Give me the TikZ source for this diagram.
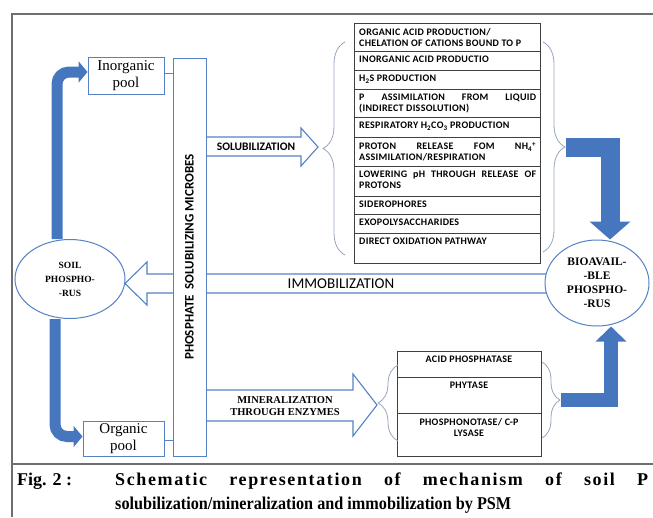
\documentclass[tikz,border=0pt]{standalone}
\usepackage{fontspec}
\setmainfont{Liberation Serif}
\newfontfamily\calib{Carlito}
\newfontfamily\calibw[LetterSpace=3]{Carlito}
\newfontfamily\capfont[FakeStretch=0.9]{Liberation Serif}
\newfontfamily\capspaced[LetterSpace=9]{Liberation Serif}
\usetikzlibrary{arrows.meta,shapes.geometric,decorations.pathreplacing}

\begin{document}
\begin{tikzpicture}[x=1pt,y=-1pt,
    pool/.style={draw=azul,line width=1pt,fill=white,align=center,inner sep=0pt,font=\fontsize{15}{17}\selectfont},
    nube/.style={ellipse,draw=azul,line width=1pt,fill=white,align=center,inner sep=0pt},
    hueco/.style={draw=azul,line width=1.1pt,fill=white,line join=miter},
    gruesa/.style={draw=azulf,line width=11pt,rounded corners=12pt,-{Triangle[length=9pt,width=21pt]}},
    llave/.style={draw=gris,line width=0.8pt,decorate,decoration={brace,amplitude=#1}},
    fila/.style={draw=black!75,line width=0.7pt},
    txtfila/.style={anchor=north west,inner sep=0pt,text width=177pt,align=justify,font=\calibw\bfseries\fontsize{10}{11}\selectfont},
  ]
    %colores
    \definecolor{azul}{RGB}{84,130,196}
    \definecolor{azulf}{RGB}{70,118,190}
    \definecolor{gris}{RGB}{150,165,190}
    \definecolor{marco}{RGB}{110,110,110}
    \useasboundingbox (0,0) rectangle (653,517);

    % marco
    \draw[marco,line width=1.3pt] (12,517) -- (12,14) -- (653,14);
    \draw[marco,line width=1.8pt] (12,464) -- (653,464);

    % flechas huecas
    \draw[hueco] (206,137) -- (301,137) -- (301,128) -- (318,147) -- (301,166) -- (301,156) -- (206,156) -- cycle;
    \draw[hueco] (560,274) -- (147,274) -- (147,262) -- (125,283.5) -- (147,305) -- (147,293) -- (560,293) -- cycle;
    \draw[hueco] (206,390) -- (353,390) -- (353,374) -- (377,405) -- (353,436) -- (353,421) -- (206,421) -- cycle;
    \node[font=\calib\bfseries\fontsize{11.5}{13}\selectfont] (solub) at (256,147) {SOLUBILIZATION};
    \node[font=\calib\fontsize{15}{17}\selectfont] (inmov) at (341,284) {IMMOBILIZATION};
    \node[align=center,font=\bfseries\fontsize{10.5}{12}\selectfont] (miner) at (285,406) {MINERALIZATION\\THROUGH ENZYMES};

    % microbios y reservas
    \node[draw=azul,line width=1pt,fill=white,minimum width=33pt,minimum height=398pt,inner sep=0pt] (psm) at (189.5,257)
        {\rotatebox{90}{\calib\bfseries\fontsize{13}{15}\selectfont PHOSPHATE\ \ SOLUBILIZING MICROBES}};
    \node[pool,minimum width=76pt,minimum height=37pt] (inorg) at (126,75.5) {Inorganic\\pool};
    \node[pool,minimum width=81pt,minimum height=35pt] (org) at (123.5,438.5) {Organic\\pool};
    \draw[azul,line width=1pt] ([yshift=2.5pt]inorg.east) -- ([yshift=2.5pt]inorg.east -| psm.west);
    \draw[azul,line width=1pt] ([yshift=-1.5pt]org.east) -- ([yshift=-1.5pt]org.east -| psm.west);

    % tabla solubilizacion
    \foreach \rtop/\rbot/\rtext [count=\i] in {
        23/51/{ORGANIC ACID PRODUCTION/\\CHELATION OF CATIONS BOUND TO P},
        51/70/{INORGANIC ACID PRODUCTIO},
        70/89/{H\textsubscript{2}S PRODUCTION},
        89/117/{P ASSIMILATION FROM LIQUID\linebreak (INDIRECT DISSOLUTION)},
        117/137/{RESPIRATORY H\textsubscript{2}CO\textsubscript{3} PRODUCTION},
        137/166/{PROTON RELEASE FOM NH\textsubscript{4}\textsuperscript{+}\linebreak ASSIMILATION/RESPIRATION},
        166/196/{LOWERING pH THROUGH RELEASE OF\linebreak PROTONS},
        196/214/{SIDEROPHORES},
        214/233/{EXOPOLYSACCHARIDES},
        233/263/{DIRECT OXIDATION PATHWAY}}
    {
        \draw[fila] (354,\rtop) rectangle (540,\rbot);
        \node[txtfila] (sol\i) at (359,\rtop+5) {\rtext};
    }

    % tabla enzimas
    \foreach \rtop/\rbot/\rtext [count=\i] in {351/377/{ACID PHOSPHATASE},377/413/{PHYTASE},413/456/{PHOSPHONOTASE/ C-P\\LYSASE}}
    {
        \draw[fila] (397,\rtop) rectangle (541,\rbot);
        \node[anchor=north,inner sep=0pt,align=center,font=\calibw\bfseries\fontsize{10}{11}\selectfont] (enz\i) at (469,\rtop+5) {\rtext};
    }

    % llaves
    \draw[llave=22pt] (345,255) -- (345,42);
    \draw[llave=22pt] (543,42) -- (543,252);
    \draw[llave=20pt] (398,441) -- (398,365);
    \draw[llave=18pt] (542,362) -- (542,438);
    \coordinate (puntaS) at (566,147);
    \coordinate (puntaE) at (561,400);

    % elipses
    \node[nube,minimum width=110pt,minimum height=79pt,font=\bfseries\fontsize{9.5}{14}\selectfont] (soil) at (70,279) {SOIL\\PHOSPHO-\\-RUS};
    \node[nube,minimum width=104pt,minimum height=86pt,font=\bfseries\fontsize{11.5}{14}\selectfont] (bio) at (597,283) {BIOAVAIL-\\-BLE\\PHOSPHO-\\-RUS};

    % flechas gruesas
    \draw[gruesa] ([xshift=-13pt]soil.north) |- ([yshift=3.5pt]inorg.west);
    \draw[gruesa] ([xshift=-15pt]soil.south) |- ([yshift=2pt]org.west);
    \draw[azulf,line width=19pt,-{Triangle[length=18pt,width=40pt]}] (puntaS) -| ([xshift=13pt]bio.north);
    \draw[azulf,line width=14.5pt,-{Triangle[length=15pt,width=30pt]}] (puntaE) -| ([xshift=14pt]bio.south);

    % pie de figura
    \node[anchor=base west,inner sep=0pt,font=\bfseries\fontsize{18}{20}\selectfont] (fig) at (17,485) {Fig. 2 :};
    \node[anchor=base west,inner sep=0pt,font=\capspaced\bfseries\fontsize{18}{20}\selectfont] (cap1) at (115,485)
        {\makebox[533pt][s]{Schematic representation of mechanism of soil P}};
    \node[anchor=base west,inner sep=0pt,font=\capfont\bfseries\fontsize{18}{20}\selectfont] (cap2) at (115,509)
        {solubilization/mineralization and immobilization by PSM};
\end{tikzpicture}
\end{document}
